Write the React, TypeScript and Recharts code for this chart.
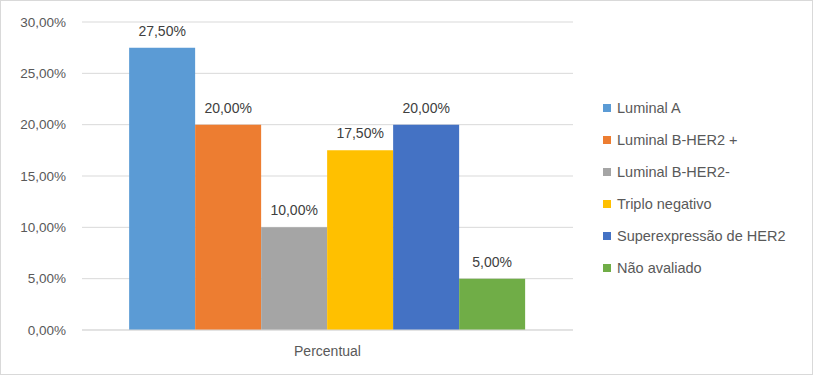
import React from 'react';
import { BarChart, Bar, XAxis, YAxis, CartesianGrid, LabelList } from 'recharts';

const categories = ['Percentual'];
const seriesKeys = ['s1', 's2', 's3', 's4', 's5', 's6'];
const seriesNames = ['Luminal A', 'Luminal B-HER2 +', 'Luminal B-HER2-', 'Triplo negativo', 'Superexpressão de HER2', 'Não avaliado'];
const seriesValues = [27.5, 20.0, 10.0, 17.5, 20.0, 5.0];
const seriesColors = ['#5B9BD5', '#ED7D31', '#A5A5A5', '#FFC000', '#4472C4', '#70AD47'];
const yTicks = [0, 5, 10, 15, 20, 25, 30];

const data = categories.map((c) => {
  const row: Record<string, any> = { name: c };
  seriesKeys.forEach((k, i) => { row[k] = seriesValues[i]; });
  return row;
});

const fmt = (v: any) => Number(v).toFixed(2).replace('.', ',') + '%';
const FONT = '"Liberation Sans", Arial, sans-serif';

const LegendBox = () => (
  <div style={{ position: 'absolute', left: 603, top: 92, fontFamily: FONT, fontSize: 14.5, color: '#595959' }}>
    {seriesNames.map((n, i) => (
      <div key={n} style={{ display: 'flex', alignItems: 'center', height: 32, whiteSpace: 'nowrap' }}>
        <span style={{ display: 'inline-block', width: 8, height: 8, background: seriesColors[i], marginRight: 6 }} />
        <span>{n}</span>
      </div>
    ))}
  </div>
);

export default function App() {
  return (
    <div style={{ position: 'absolute', left: 0, top: 0, width: 813, height: 375, background: '#fff', border: '1px solid #d9d9d9', boxSizing: 'border-box' }}>
      <div style={{ position: 'absolute', left: -1, top: -1 }}>
        <BarChart width={813} height={375} data={data} margin={{ top: 22, right: 240, left: 0, bottom: 15 }} barCategoryGap="9.6%" barGap={0}>
          <CartesianGrid vertical={false} stroke="#d9d9d9" />
          <XAxis dataKey="name" height={30} axisLine={{ stroke: '#d9d9d9' }} tickLine={false} tick={{ fill: '#595959', fontSize: 14, fontFamily: FONT }} dy={8} />
          <YAxis width={82} domain={[0, 30]} ticks={yTicks} tickFormatter={fmt} axisLine={false} tickLine={false} tick={{ fill: '#595959', fontSize: 13.5, fontFamily: FONT }} dx={-8} />
          {seriesKeys.map((k, i) => (
            <Bar key={k} dataKey={k} name={seriesNames[i]} fill={seriesColors[i]} isAnimationActive={false}>
              <LabelList dataKey={k} position="top" offset={12} formatter={fmt} fill="#404040" fontSize={14} fontFamily={FONT} />
            </Bar>
          ))}
        </BarChart>
        <LegendBox />
      </div>
    </div>
  );
}
